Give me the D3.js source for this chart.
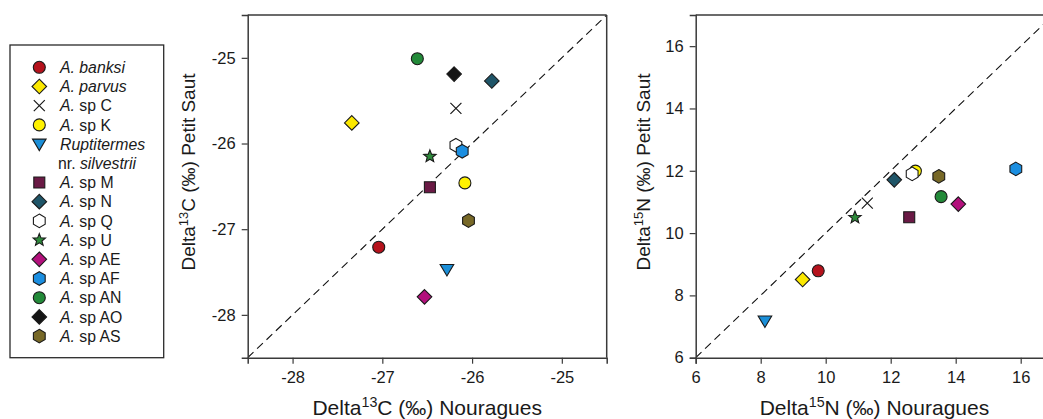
<!DOCTYPE html>
<html>
<head>
<meta charset="utf-8">
<script src="https://cdn.jsdelivr.net/npm/d3@7"></script>
<style>
  html, body { margin: 0; padding: 0; background: #fff; }
  svg { display: block; font-family: "Liberation Sans", Arial, sans-serif; }
</style>
</head>
<body>
<svg id="chart" width="1043" height="419"></svg>
<script>
// ---------- data ----------
const species = ["A. banksi", "A. parvus", "A. sp C", "A. sp K", "Ruptitermes nr. silvestrii",
  "A. sp M", "A. sp N", "A. sp Q", "A. sp U", "A. sp AE", "A. sp AF", "A. sp AN", "A. sp AO", "A. sp AS"];
const c13Nouragues = [-27.04, -27.34, -26.18, -26.08, -26.28, -26.47, -25.78, -26.18, -26.47, -26.53, -26.11, -26.61, -26.20, -26.04];
const c13PetitSaut = [-27.21, -25.76, -25.59, -26.46, -27.47, -26.51, -25.27, -26.02, -26.15, -27.79, -26.09, -25.01, -25.19, -26.90];
const n15Nouragues = [9.77, 9.29, 11.28, 12.76, 8.13, 12.57, 12.11, 12.66, 10.90, 14.08, 15.85, 13.55, null, 13.48];
const n15PetitSaut = [8.79, 8.51, 10.96, 11.99, 7.18, 10.51, 11.71, 11.90, 10.50, 10.93, 12.06, 11.17, null, 11.82];
const c13Ticks = [-28, -27, -26, -25];
const n15Ticks = [6, 8, 10, 12, 14, 16];

// ---------- styles ----------
const shapes = ["circle", "diamond", "x", "circle", "triangleDown", "square", "diamond", "hexagon",
  "star", "diamond", "hexagon", "circle", "diamond", "hexagon"];
const colors = ["#b5121c", "#fbe800", "none", "#fff200", "#1b8fd8", "#6a1a45", "#1f5568", "#ffffff",
  "#2e8a3b", "#b3107c", "#1b8ee0", "#238a39", "#151515", "#776827"];

function shapePath(type) {
  const p = d3.path();
  if (type === "circle") { p.arc(0, 0, 6, 0, 2 * Math.PI); p.closePath(); }
  else if (type === "diamond") { const r = 7.3; p.moveTo(0, -r); p.lineTo(r, 0); p.lineTo(0, r); p.lineTo(-r, 0); p.closePath(); }
  else if (type === "square") { const s = 5.5; p.rect(-s, -s, 2 * s, 2 * s); }
  else if (type === "triangleDown") { p.moveTo(-6.8, -5); p.lineTo(6.8, -5); p.lineTo(0, 6.5); p.closePath(); }
  else if (type === "hexagon") {
    const r = 6.8;
    for (let i = 0; i < 6; i++) {
      const a = -Math.PI / 2 + i * Math.PI / 3;
      const x = r * Math.cos(a), y = r * Math.sin(a);
      if (i === 0) p.moveTo(x, y); else p.lineTo(x, y);
    }
    p.closePath();
  }
  else if (type === "star") {
    const ro = 6.5, ri = 2.8;
    for (let i = 0; i < 10; i++) {
      const r = i % 2 ? ri : ro;
      const a = -Math.PI / 2 + i * Math.PI / 5;
      const x = r * Math.cos(a), y = r * Math.sin(a);
      if (i === 0) p.moveTo(x, y); else p.lineTo(x, y);
    }
    p.closePath();
  }
  else if (type === "x") { const s = 5.5; p.moveTo(-s, -s); p.lineTo(s, s); p.moveTo(-s, s); p.lineTo(s, -s); }
  return p.toString();
}

function drawMarker(g, i, x, y) {
  const t = shapes[i];
  g.append("path")
    .attr("d", shapePath(t))
    .attr("transform", `translate(${x},${y})`)
    .attr("fill", t === "x" ? "none" : colors[i])
    .attr("stroke", "#1a1a1a")
    .attr("stroke-width", t === "x" ? 1.2 : 1.1);
}

const svg = d3.select("#chart");
const axisColor = "#3a3a3a";

function richText(sel, parts, size) {
  parts.forEach(pt => {
    const ts = sel.append("tspan").text(pt.t);
    if (pt.it) ts.attr("font-style", "italic");
    if (pt.sup) ts.attr("baseline-shift", "super").attr("font-size", size * 0.68);
  });
}

// ---------- panel builder ----------
function panel(opts) {
  const { left, top, width, height, domain, ticks, xs, ys, xTitle, yTitle, yTitleX, yTitleY, closedRight } = opts;
  const x = d3.scaleLinear().domain(domain).range([left, left + width]);
  const y = d3.scaleLinear().domain(domain).range([top + height, top]);
  const g = svg.append("g");

  const clipId = "clip" + Math.round(left);
  svg.append("clipPath").attr("id", clipId)
    .append("rect").attr("x", left).attr("y", top).attr("width", width).attr("height", height);

  // diagonal 1:1 line
  g.append("line")
    .attr("clip-path", `url(#${clipId})`)
    .attr("x1", x(domain[0])).attr("y1", y(domain[0]))
    .attr("x2", x(domain[1])).attr("y2", y(domain[1]))
    .attr("stroke", "#111").attr("stroke-width", 1.1)
    .attr("stroke-dasharray", "8,5");

  // frame
  g.append("line").attr("x1", left).attr("x2", left + width).attr("y1", top).attr("y2", top)
    .attr("stroke", axisColor).attr("stroke-width", 1.5);
  if (closedRight) {
    g.append("line").attr("x1", left + width).attr("x2", left + width).attr("y1", top).attr("y2", top + height)
      .attr("stroke", axisColor).attr("stroke-width", 1.5);
  }

  const xAxis = g.append("g").attr("transform", `translate(0,${top + height})`)
    .call(d3.axisBottom(x).tickValues(ticks).tickSize(6).tickPadding(4).tickFormat(d => String(d)));
  const yAxis = g.append("g").attr("transform", `translate(${left},0)`)
    .call(d3.axisLeft(y).tickValues(ticks).tickSize(6).tickPadding(6).tickFormat(d => String(d)));
  [xAxis, yAxis].forEach(a => {
    a.select(".domain").attr("stroke", axisColor).attr("stroke-width", 1.5);
    a.selectAll(".tick line").attr("stroke", axisColor).attr("stroke-width", 1.2);
    a.selectAll(".tick text").attr("fill", "#1a1a1a").attr("font-size", 16.5)
      .attr("font-family", "'Liberation Sans', Arial, sans-serif");
  });
  xAxis.selectAll(".tick text").attr("dy", "0.95em");

  // points
  const pts = g.append("g").attr("clip-path", `url(#${clipId})`);
  species.forEach((s, i) => {
    if (xs[i] == null || ys[i] == null) return;
    drawMarker(pts, i, x(xs[i]), y(ys[i]));
  });

  // titles
  const xt = g.append("text")
    .attr("x", left + width / 2).attr("y", top + height + 57.5)
    .attr("text-anchor", "middle").attr("font-size", 21).attr("fill", "#1a1a1a");
  richText(xt, xTitle, 21);
  const yt = g.append("text")
    .attr("transform", `translate(${yTitleX},${yTitleY}) rotate(-90)`)
    .attr("text-anchor", "middle").attr("font-size", 19).attr("fill", "#1a1a1a");
  richText(yt, yTitle, 19);
}

panel({
  left: 247.7, top: 15, width: 359, height: 342.7,
  domain: [-28.5, -24.5], ticks: c13Ticks,
  xs: c13Nouragues, ys: c13PetitSaut,
  xTitle: [{ t: "Delta" }, { t: "13", sup: true }, { t: "C (‰) Nouragues" }],
  yTitle: [{ t: "Delta" }, { t: "13", sup: true }, { t: "C (‰) Petit Saut" }],
  yTitleX: 195, yTitleY: 172, closedRight: true
});

panel({
  left: 695.7, top: 15, width: 357.5, height: 342.7,
  domain: [6, 17], ticks: n15Ticks,
  xs: n15Nouragues, ys: n15PetitSaut,
  xTitle: [{ t: "Delta" }, { t: "15", sup: true }, { t: "N (‰) Nouragues" }],
  yTitle: [{ t: "Delta" }, { t: "15", sup: true }, { t: "N (‰) Petit Saut" }],
  yTitleX: 650, yTitleY: 172, closedRight: false
});

// ---------- legend ----------
const legendLabels = [
  [[{ t: "A. banksi", it: true }]],
  [[{ t: "A. parvus", it: true }]],
  [[{ t: "A.", it: true }, { t: " sp C" }]],
  [[{ t: "A.", it: true }, { t: " sp K" }]],
  [[{ t: "Ruptitermes", it: true }], [{ t: "nr. " }, { t: "silvestrii", it: true }]],
  [[{ t: "A.", it: true }, { t: " sp M" }]],
  [[{ t: "A.", it: true }, { t: " sp N" }]],
  [[{ t: "A.", it: true }, { t: " sp Q" }]],
  [[{ t: "A.", it: true }, { t: " sp U" }]],
  [[{ t: "A.", it: true }, { t: " sp AE" }]],
  [[{ t: "A.", it: true }, { t: " sp AF" }]],
  [[{ t: "A.", it: true }, { t: " sp AN" }]],
  [[{ t: "A.", it: true }, { t: " sp AO" }]],
  [[{ t: "A.", it: true }, { t: " sp AS" }]]
];
const lg = svg.append("g");
lg.append("rect").attr("x", 10).attr("y", 45).attr("width", 153.7).attr("height", 312.7)
  .attr("fill", "#fff").attr("stroke", "#2a2a2a").attr("stroke-width", 1.3);
let row = 0;
const rowH = 19.2, firstY = 67.3;
species.forEach((s, i) => {
  const cy = firstY + row * rowH;
  drawMarker(lg, i, 39.3, cy);
  legendLabels[i].forEach((line, li) => {
    const tx = lg.append("text").attr("x", li === 0 ? 60 : 58).attr("y", cy + li * rowH + 5.6)
      .attr("font-size", 15.8).attr("fill", "#1a1a1a");
    richText(tx, line, 15.8);
  });
  row += legendLabels[i].length;
});
</script>
</body>
</html>
